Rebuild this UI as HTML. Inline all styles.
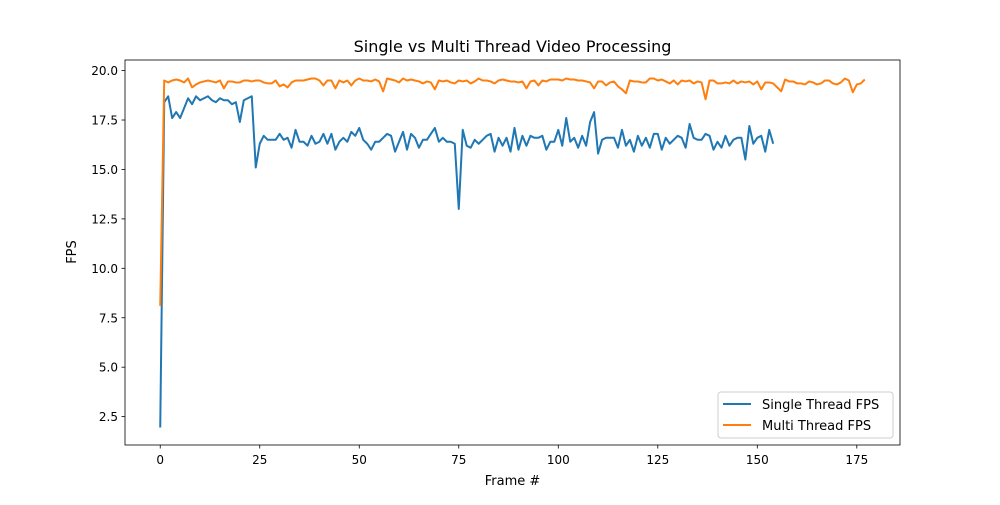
<!DOCTYPE html>
<html><head><meta charset="utf-8"><style>
body{margin:0;background:#fff;}
svg text{font-family:"DejaVu Sans","Liberation Sans",sans-serif;fill:#000;}
</style></head><body>
<svg id="chart" width="1000" height="500" xmlns="http://www.w3.org/2000/svg">
<rect width="1000" height="500" fill="#fff"/>
<g id="lines"></g>
<rect x="125" y="60" width="775" height="385" fill="none" stroke="#000" stroke-width="0.8"/>
<g id="xticks"></g><g id="yticks"></g>
<text x="512.5" y="52" font-size="16" text-anchor="middle">Single vs Multi Thread Video Processing</text>
<text x="512.5" y="485" font-size="13" text-anchor="middle">Frame #</text>
<text x="76" y="252" font-size="13" text-anchor="middle" transform="rotate(-90 76 252)">FPS</text>
<g>
<rect x="718" y="392" width="175" height="46" rx="3" fill="#fff" stroke="#ccc" stroke-width="1"/>
<line x1="723" y1="404" x2="751" y2="404" stroke="#1f77b4" stroke-width="2"/>
<text x="762" y="409" font-size="13">Single Thread FPS</text>
<line x1="723" y1="425" x2="751" y2="425" stroke="#ff7f0e" stroke-width="2"/>
<text x="762" y="430" font-size="13">Multi Thread FPS</text>
</g>
</svg>
<script>
const singleFps=[1.95,18.4,18.7,17.6,17.9,17.6,18.1,18.6,18.3,18.7,18.5,18.6,18.7,18.5,18.4,18.6,18.5,18.5,18.3,18.4,17.4,18.5,18.6,18.7,15.1,16.3,16.7,16.5,16.5,16.5,16.8,16.5,16.6,16.1,17.0,16.4,16.4,16.2,16.7,16.3,16.4,16.8,16.3,16.8,16.0,16.4,16.6,16.4,16.9,16.7,17.1,16.5,16.3,16.0,16.4,16.4,16.6,16.8,16.7,15.9,16.4,16.9,16.0,16.8,16.6,16.1,16.5,16.5,16.8,17.1,16.4,16.6,16.4,16.4,16.3,13.0,17.0,16.2,16.1,16.5,16.3,16.5,16.7,16.8,15.9,16.6,16.2,16.6,15.9,17.1,16.0,16.7,16.2,16.7,16.6,16.6,16.7,16.0,16.4,16.4,17.0,16.2,17.6,16.4,16.6,16.1,16.7,16.2,17.4,17.9,15.8,16.5,16.6,16.6,16.6,16.1,17.0,16.2,16.5,15.9,16.7,16.2,16.6,16.1,16.8,16.8,16.0,16.6,16.3,16.5,16.7,16.6,16.1,17.3,16.6,16.5,16.5,16.8,16.7,16.0,16.4,16.1,16.7,16.2,16.5,16.6,16.6,15.5,17.2,16.3,16.6,16.7,15.9,17.0,16.3];
const multiFps=[8.1,19.5,19.4,19.5,19.55,19.5,19.4,19.6,19.15,19.3,19.4,19.45,19.5,19.45,19.4,19.5,19.1,19.45,19.45,19.4,19.4,19.5,19.5,19.45,19.5,19.5,19.4,19.35,19.35,19.5,19.2,19.3,19.15,19.4,19.5,19.5,19.5,19.55,19.6,19.6,19.5,19.25,19.5,19.5,19.1,19.5,19.4,19.5,19.25,19.5,19.6,19.5,19.5,19.45,19.55,19.45,18.95,19.6,19.55,19.5,19.4,19.6,19.5,19.55,19.5,19.45,19.35,19.45,19.4,19.05,19.5,19.45,19.5,19.4,19.35,19.5,19.45,19.5,19.35,19.45,19.6,19.5,19.5,19.45,19.35,19.5,19.55,19.5,19.45,19.45,19.4,19.45,19.1,19.45,19.5,19.25,19.5,19.45,19.55,19.55,19.55,19.5,19.6,19.55,19.55,19.5,19.5,19.45,19.4,19.1,19.45,19.45,19.25,19.4,19.45,19.2,19.05,18.85,19.5,19.45,19.45,19.4,19.4,19.6,19.6,19.5,19.55,19.45,19.35,19.5,19.3,19.5,19.45,19.5,19.35,19.45,19.4,18.55,19.5,19.5,19.35,19.35,19.4,19.35,19.5,19.35,19.45,19.4,19.45,19.3,19.45,19.05,19.4,19.4,19.35,19.15,18.95,19.55,19.45,19.45,19.35,19.35,19.3,19.45,19.4,19.3,19.35,19.5,19.5,19.35,19.3,19.4,19.6,19.5,18.9,19.3,19.35,19.55];
const xTickLabels=[0,25,50,75,100,125,150,175];
const yTickLabels=[2.5,5.0,7.5,10.0,12.5,15.0,17.5,20.0];
const NS='http://www.w3.org/2000/svg';
const xMin=-8.85,xMax=185.85,yMin=1.065,yMax=20.535;
const X=v=>125+(v-xMin)/(xMax-xMin)*775;
const Y=v=>445-(v-yMin)/(yMax-yMin)*385;
function mk(t,a){const e=document.createElementNS(NS,t);for(const k in a)e.setAttribute(k,a[k]);return e;}
const lines=document.getElementById('lines');
[[singleFps,'#1f77b4','single-thread-line'],[multiFps,'#ff7f0e','multi-thread-line']].forEach(([d,c,n])=>{
  const p=mk('polyline',{points:d.map((v,i)=>X(i).toFixed(2)+','+Y(v).toFixed(2)).join(' '),fill:'none',stroke:c,'stroke-width':2,'stroke-linejoin':'round'});
  
  
  lines.appendChild(p);
});
const xt=document.getElementById('xticks');
xTickLabels.forEach(v=>{
  const g=mk('g',{});
  
  
  g.appendChild(mk('line',{x1:X(v),x2:X(v),y1:445,y2:448.5,stroke:'#000','stroke-width':0.8}));
  const t=mk('text',{x:X(v),y:464,'font-size':12,'text-anchor':'middle'});t.textContent=v;g.appendChild(t);
  xt.appendChild(g);
});
const yt=document.getElementById('yticks');
yTickLabels.forEach(v=>{
  const g=mk('g',{});
  
  
  g.appendChild(mk('line',{x1:121.5,x2:125,y1:Y(v),y2:Y(v),stroke:'#000','stroke-width':0.8}));
  const t=mk('text',{x:118,y:Y(v)+4.5,'font-size':12,'text-anchor':'end'});t.textContent=v.toFixed(1);g.appendChild(t);
  yt.appendChild(g);
});
</script>
</body></html>
